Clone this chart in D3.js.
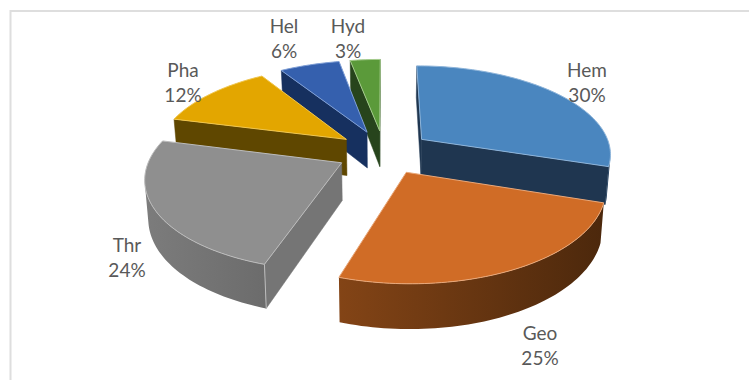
<!DOCTYPE html>
<html>
<head>
<meta charset="utf-8">
<script src="https://cdn.jsdelivr.net/npm/d3@7/dist/d3.min.js"></script>
<style>
  html, body { margin: 0; padding: 0; background: #fff; }
  svg { display: block; }
  text { font-family: Lato, "Open Sans", sans-serif; font-size: 19px; fill: #595959; text-anchor: middle; }
</style>
</head>
<body>
<svg id="chart" width="749" height="380"></svg>
<script>
// Composition shares, in percent
const categories = ["Hem", "Geo", "Thr", "Pha", "Hel", "Hyd"];
const shares = [30, 25, 24, 12, 6, 3];

// Slice colours: top face, wall, rim gradient ends, bevel
const topColors = ["#4a86bf", "#d06c26", "#8f8f8f", "#e3a600", "#3560ae", "#5b9a3a"];
const wallColors = ["#1f3650", "#6a3612", "#757575", "#5f4700", "#16305f", "#27441c"];
const rimLight = ["#24405e", "#834416", "#7c7c7c", "#6a5000", "#1b3a70", "#2f5222"];
const rimDark = ["#1c3149", "#4c280c", "#6c6c6c", "#544000", "#122a54", "#223c18"];
const edgeColors = ["#8db4da", "#e9a87a", "#bcbcbc", "#f0c64f", "#7f9fd6", "#a4cb8c"];

// Label anchors, as [centre x, first baseline]
const labelSpots = [[587, 77], [540, 340], [127, 252], [183, 77], [284, 33], [348, 33]];
const labelLeading = 25;

// Back-to-front paint order for the exploded slices
const paintOrder = [0, 5, 4, 3, 2, 1];

// Tilted-disc projection with mild perspective
const centre = { x: 384, y: 152 };
const radiusX = 190, radiusY = 88, perspective = 0.15;
const explode = 0.25, depth = 37, floorShrink = 0.985;

const project = (X, Y, lower) => {
  const s = 1 / (1 - perspective * Y);
  const k = lower ? floorShrink : 1;
  return [
    centre.x + radiusX * X * s * k,
    centre.y + radiusY * Y * s + (lower ? depth * s : 0)
  ];
};

const svg = d3.select("#chart");
const color = (range) => d3.scaleOrdinal().domain(categories).range(range);
const topColor = color(topColors), wallColor = color(wallColors), edgeColor = color(edgeColors);
const rimLightColor = color(rimLight), rimDarkColor = color(rimDark);

// Chart area frame
svg.append("path")
  .attr("d", "M749,11H10.5V380")
  .attr("fill", "none")
  .attr("stroke", "#dedede")
  .attr("stroke-width", 2);

const arcs = d3.pie().sort(null).value((d) => d.share).startAngle(0).endAngle(2 * Math.PI)(
  categories.map((name, i) => ({ name, share: shares[i] }))
);

const line = d3.line();
const closed = (pts) => line(pts) + "Z";
const defs = svg.append("defs");

paintOrder.forEach((index) => {
  const arc = arcs[index];
  const name = arc.data.name;
  const mid = (arc.startAngle + arc.endAngle) / 2;
  const ox = explode * Math.sin(mid), oy = -explode * Math.cos(mid);

  const sweep = arc.endAngle - arc.startAngle;
  const steps = Math.max(8, Math.ceil(sweep * 40));
  const samples = d3.range(steps + 1).map((i) => {
    const a = arc.startAngle + sweep * i / steps;
    return [ox + Math.sin(a), oy - Math.cos(a)];
  });

  const upper = (p) => project(p[0], p[1], false);
  const lower = (p) => project(p[0], p[1], true);
  const g = svg.append("g").attr("class", "slice");

  // A side quad faces the viewer when it winds the opposite way to the top face
  const facing = (a, b) => d3.polygonArea([upper(a), upper(b), lower(b), lower(a)]) > 0;
  const wall = (a, b) => {
    if (!facing(a, b)) return;
    g.append("path")
      .attr("d", closed([upper(a), upper(b), lower(b), lower(a)]))
      .attr("fill", wallColor(name))
      .attr("stroke", wallColor(name))
      .attr("stroke-width", 0.5);
  };

  const apex = [ox, oy];
  wall(apex, samples[0]);
  wall(samples[samples.length - 1], apex);

  // Outer rim: only the stretch that faces the viewer
  const shown = samples.slice(0, -1).map((p, i) => facing(p, samples[i + 1]));
  const first = shown.indexOf(true), last = shown.lastIndexOf(true);
  if (first >= 0) {
    const stretch = samples.slice(first, last + 2);
    const gradId = "rim-" + name;
    const xs = stretch.map((p) => upper(p)[0]);
    const grad = defs.append("linearGradient")
      .attr("id", gradId)
      .attr("gradientUnits", "userSpaceOnUse")
      .attr("x1", d3.min(xs)).attr("x2", d3.max(xs)).attr("y1", 0).attr("y2", 0);
    grad.append("stop").attr("offset", 0).attr("stop-color", rimLightColor(name));
    grad.append("stop").attr("offset", 1).attr("stop-color", rimDarkColor(name));
    g.append("path")
      .attr("d", closed(stretch.map(upper).concat(stretch.map(lower).reverse())))
      .attr("fill", `url(#${gradId})`);
  }

  // Top face with a pale bevel along its edge
  g.append("path")
    .attr("d", closed([upper(apex)].concat(samples.map(upper))))
    .attr("fill", topColor(name))
    .attr("stroke", edgeColor(name))
    .attr("stroke-width", 1)
    .attr("stroke-linejoin", "round");

  // Crease where the visible wall meets the rim
  if (first === 0 && facing(apex, samples[0])) {
    g.append("path")
      .attr("d", line([upper(samples[0]), lower(samples[0])]))
      .attr("stroke", edgeColor(name))
      .attr("stroke-width", 1)
      .attr("fill", "none");
  }
});

// Category and share labels
const labels = svg.append("g").attr("class", "labels");
arcs.forEach((arc, i) => {
  const [x, y] = labelSpots[i];
  labels.append("text").attr("x", x).attr("y", y).text(arc.data.name);
  labels.append("text").attr("x", x).attr("y", y + labelLeading).text(arc.data.share + "%");
});
</script>
</body>
</html>
